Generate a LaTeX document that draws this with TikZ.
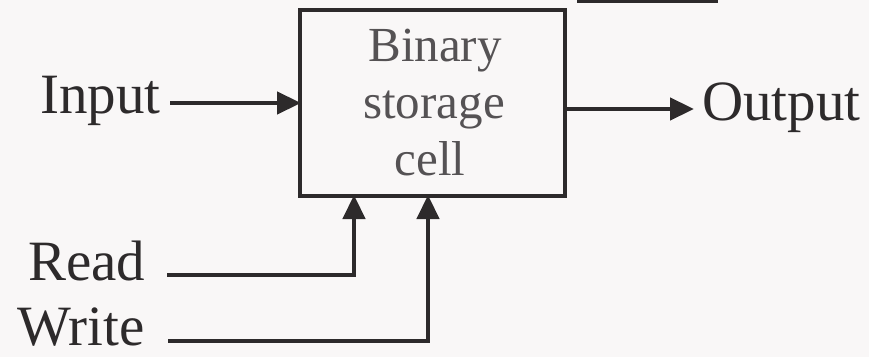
\documentclass[tikz,border=0pt]{standalone}
\usepackage{fontspec}
\setmainfont{Liberation Serif}
\usetikzlibrary{arrows.meta}
\definecolor{ink}{RGB}{45,42,43}
\definecolor{boxink}{RGB}{85,82,84}
\definecolor{paper}{RGB}{249,247,247}
\begin{document}
\begin{tikzpicture}[x=1pt,y=1pt,
  wire/.style={draw=ink,line width=4.5pt},
  arr/.style={wire,-{Triangle[length=24pt,width=22pt]},shorten >=-1pt},
  biglabel/.style={inner sep=0pt,text=ink,font=\fontsize{57}{60}\selectfont},
  celllabel/.style={inner sep=0pt,text=boxink,font=\fontsize{49}{52}\selectfont,anchor=base},
  cellbox/.style={draw=ink,line width=4.5pt,minimum width=265pt,minimum height=186pt,inner sep=0pt}]
\fill[paper] (0,0) rectangle (869,357);
\useasboundingbox (0,0) rectangle (869,357);
% cell
\node[cellbox] (box) at (432.5,254) {};
\node[celllabel] (t1) at (435,295) {Binary};
\node[celllabel] (t2) at (434,239) {storage};
\node[celllabel] (t3) at (430,182) {cell};
% labels
\node[biglabel,anchor=base west] (inp) at (40,244) {Input};
\node[biglabel,anchor=base west] (out) at (702,237) {Output};
\node[biglabel,anchor=base west] (rd) at (28,77) {Read};
\node[biglabel,anchor=base west] (wr) at (17,12) {Write};
% connector points
\coordinate (inA) at (170,254);
\coordinate (inB) at (300,254);
\coordinate (outA) at (565,248);
\coordinate (outB) at (693,248);
\coordinate (rdA) at (167,82);
\coordinate (rdB) at (354,82);
\coordinate (rdC) at (354,161);
\coordinate (wrA) at (168,16);
\coordinate (wrB) at (428,16);
\coordinate (wrC) at (428,161);
\coordinate (fragA) at (577,356);
\coordinate (fragB) at (718,356);
% connectors
\draw[arr] (inA) -- (inB);
\draw[arr] (outA) -- (outB);
\draw[arr] (rdA) -- (rdB) -- (rdC);
\draw[arr] (wrA) -- (wrB) -- (wrC);
\draw[wire] (fragA) -- (fragB);
\end{tikzpicture}
\end{document}
